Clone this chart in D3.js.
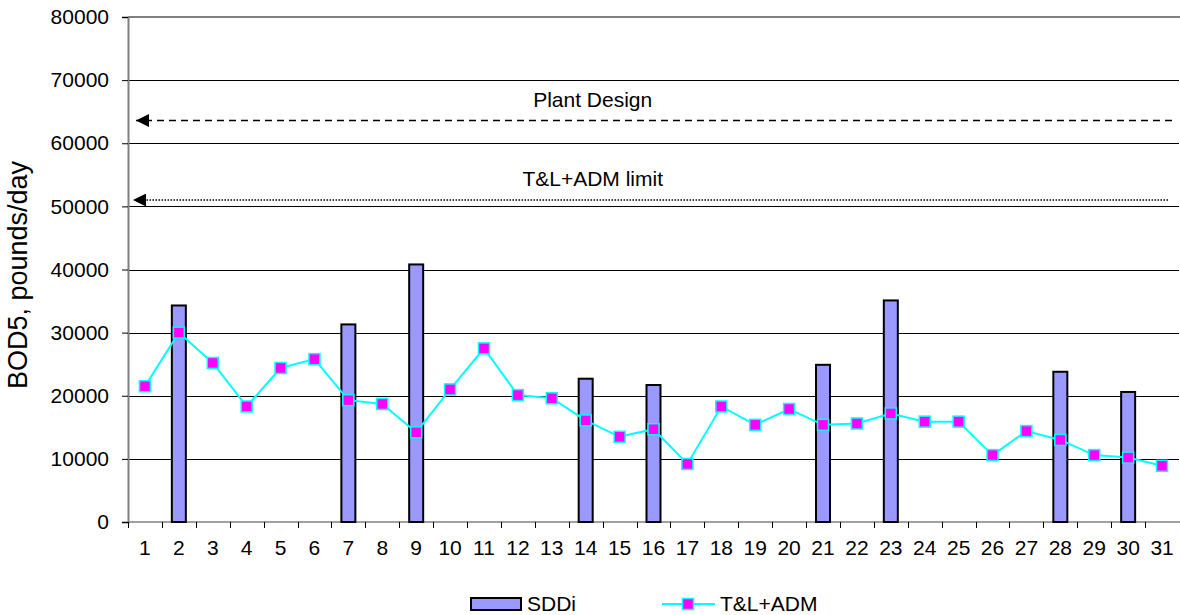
<!DOCTYPE html>
<html>
<head>
<meta charset="utf-8">
<script src="https://cdn.jsdelivr.net/npm/d3@7"></script>
<style>
	body { margin: 0; background: #fff; }
	text { font-family: "Liberation Sans", Arial, sans-serif; fill: #000; }
</style>
</head>
<body>
<script>
var days = d3.range(1, 32);

// SDDi bars only on some days
var sddiDays = [2, 7, 9, 14, 16, 21, 23, 28, 30];
var sddiValues = [34300, 31300, 40800, 22700, 21700, 24900, 35100, 23800, 20600];

var tlAdm = [21500, 30000, 25200, 18300, 24400, 25800, 19300, 18700, 14200, 21000,
	27500, 20100, 19600, 16100, 13500, 14700, 9200, 18300, 15400, 17900,
	15400, 15600, 17200, 15900, 15900, 10600, 14400, 13000, 10600, 10200, 8900];

var yTicks = [0, 10000, 20000, 30000, 40000, 50000, 60000, 70000, 80000];

var refLines = [
	{label: 'Plant Design', value: 63600, dash: '7,5'},
	{label: 'T&L+ADM limit', value: 51000, dash: '1.5,1.5'}
];

var width = 1180, height = 615;
var margin = {top: 17, right: 1, bottom: 93, left: 128};

var svg = d3.select('body')
	.append('svg')
	.attr('width', width)
	.attr('height', height);

var x = d3.scaleBand()
	.domain(days)
	.range([margin.left, width - margin.right]);

var y = d3.scaleLinear()
	.domain([0, 80000])
	.range([height - margin.bottom, margin.top]);

svg.append('defs').append('marker')
	.attr('id', 'arrow')
	.attr('viewBox', '0 -5 10 10')
	.attr('refX', 10)
	.attr('markerWidth', 15)
	.attr('markerHeight', 13)
	.attr('markerUnits', 'userSpaceOnUse')
	.attr('orient', 'auto')
	.append('path')
	.attr('d', 'M0,-5 L10,0 L0,5 Z')
	.attr('fill', 'black');

// gridlines
svg.append('g')
	.selectAll('line')
	.data(yTicks.slice(1, -1))
	.enter()
	.append('line')
	.attr('x1', margin.left)
	.attr('x2', width - margin.right)
	.attr('y1', function(d) { return Math.round(y(d)) + .5; })
	.attr('y2', function(d) { return Math.round(y(d)) + .5; })
	.attr('stroke', '#000')
	.attr('stroke-width', 1);

// top border
svg.append('line')
	.attr('x1', margin.left)
	.attr('x2', width)
	.attr('y1', y(80000))
	.attr('y2', y(80000))
	.attr('stroke', '#808080')
	.attr('stroke-width', 2);

// y axis
var yAxis = svg.append('g')
	.attr('transform', 'translate(' + margin.left + ',0)')
	.call(d3.axisLeft(y).tickValues(yTicks).tickSize(6).tickPadding(13).tickFormat(d3.format('d')));
yAxis.select('.domain').attr('stroke', '#808080').attr('stroke-width', 2);
yAxis.selectAll('.tick line').attr('stroke', '#000');
yAxis.selectAll('text').style('font-size', '21px');

// x axis
var xAxis = svg.append('g')
	.attr('transform', 'translate(0,' + y(0) + ')')
	.call(d3.axisBottom(x).tickSize(0).tickPadding(18));
xAxis.select('.domain').remove();
xAxis.selectAll('text').style('font-size', '21px');
svg.append('line')
	.attr('x1', margin.left)
	.attr('x2', width)
	.attr('y1', y(0))
	.attr('y2', y(0))
	.attr('stroke', '#808080')
	.attr('stroke-width', 1.5);
svg.append('g')
	.selectAll('line')
	.data(days)
	.enter()
	.append('line')
	.attr('x1', function(d) { return Math.round(x(d)) + .5; })
	.attr('x2', function(d) { return Math.round(x(d)) + .5; })
	.attr('y1', y(0))
	.attr('y2', y(0) + 6)
	.attr('stroke', '#000');

// y axis title
svg.append('text')
	.attr('transform', 'translate(27,275) rotate(-90)')
	.attr('text-anchor', 'middle')
	.style('font-size', '27px')
	.text('BOD5, pounds/day');

// reference lines
svg.selectAll('.ref')
	.data(refLines)
	.enter()
	.append('line')
	.attr('x1', function(d, i) { return width - margin.right - (i ? 11 : 7); })
	.attr('x2', function(d, i) { return margin.left + (i ? 5 : 8); })
	.attr('y1', function(d) { return y(d.value); })
	.attr('y2', function(d) { return y(d.value); })
	.attr('stroke', '#000')
	.attr('stroke-width', function(d, i) { return i ? 1.5 : 1.6; })
	.attr('stroke-dasharray', function(d) { return d.dash; })
	.attr('marker-end', 'url(#arrow)');

svg.selectAll('.reflabel')
	.data(refLines)
	.enter()
	.append('text')
	.attr('x', x(14) + x.bandwidth() / 2 + 7)
	.attr('y', function(d) { return y(d.value) - 14; })
	.attr('text-anchor', 'middle')
	.style('font-size', '21px')
	.text(function(d) { return d.label; });

// bars
var bw = 14;
svg.selectAll('.bar')
	.data(sddiDays)
	.enter()
	.append('rect')
	.attr('x', function(d) { return x(d) + x.bandwidth() / 2 - bw / 2; })
	.attr('y', function(d, i) { return y(sddiValues[i]); })
	.attr('width', bw)
	.attr('height', function(d, i) { return y(0) - y(sddiValues[i]); })
	.attr('fill', '#9999FF')
	.attr('stroke', '#000')
	.attr('stroke-width', 2);

// T&L+ADM line
var line = d3.line()
	.x(function(d, i) { return x(days[i]) + x.bandwidth() / 2; })
	.y(function(d) { return y(d); });

svg.append('path')
	.datum(tlAdm)
	.attr('d', line)
	.attr('fill', 'none')
	.attr('stroke', '#00FFFF')
	.attr('stroke-width', 2);

var ms = 11;
svg.selectAll('.pt')
	.data(tlAdm)
	.enter()
	.append('rect')
	.attr('x', function(d, i) { return x(days[i]) + x.bandwidth() / 2 - ms / 2; })
	.attr('y', function(d) { return y(d) - ms / 2; })
	.attr('width', ms)
	.attr('height', ms)
	.attr('fill', '#FF00FF')
	.attr('stroke', '#00FFFF')
	.attr('stroke-width', 1.5);

// legend
var lg = svg.append('g');
lg.append('rect')
	.attr('x', 471)
	.attr('y', 598)
	.attr('width', 50)
	.attr('height', 12)
	.attr('fill', '#9999FF')
	.attr('stroke', '#000')
	.attr('stroke-width', 2);
lg.append('text')
	.attr('x', 527)
	.attr('y', 611)
	.style('font-size', '21px')
	.text('SDDi');
lg.append('line')
	.attr('x1', 662)
	.attr('x2', 715)
	.attr('y1', 604)
	.attr('y2', 604)
	.attr('stroke', '#00FFFF')
	.attr('stroke-width', 2);
lg.append('rect')
	.attr('x', 688 - ms / 2)
	.attr('y', 604 - ms / 2)
	.attr('width', ms)
	.attr('height', ms)
	.attr('fill', '#FF00FF')
	.attr('stroke', '#00FFFF')
	.attr('stroke-width', 1.5);
lg.append('text')
	.attr('x', 720)
	.attr('y', 611)
	.style('font-size', '21px')
	.text('T&L+ADM');
</script>
</body>
</html>
